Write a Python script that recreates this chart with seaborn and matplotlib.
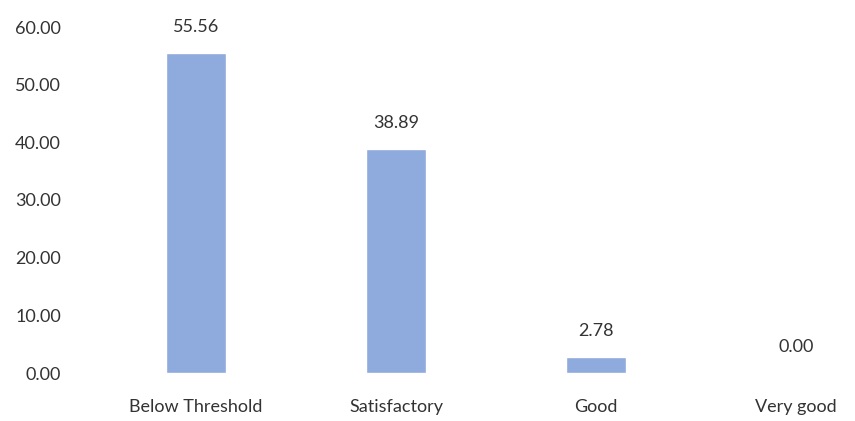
import matplotlib
matplotlib.use("Agg")
import matplotlib.pyplot as plt
import seaborn as sns
import pandas as pd

# datos
categorias = ["Below Threshold", "Satisfactory", "Good", "Very good"]
valores = [55.56, 38.89, 2.78, 0.00]
yticks = [0, 10, 20, 30, 40, 50, 60]

df = pd.DataFrame({"categoria": categorias, "valor": valores})

sns.set_style("white")
plt.rcParams["font.family"] = ["Lato", "DejaVu Sans"]

fig = plt.figure(figsize=(8.55, 4.21), dpi=100)
ax = fig.add_axes([75 / 855, 48 / 421, 780 / 855, 346 / 421])

sns.barplot(data=df, x="categoria", y="valor", color="#8faadc", width=0.3,
            saturation=1, ax=ax)

ax.bar_label(ax.containers[0], fmt="%.2f", padding=13, fontsize=13,
             color="#333333")

ax.set_ylim(0, 60)
ax.set_xlim(-0.605, 3.295)
ax.set_yticks(yticks)
ax.set_yticklabels([f"{v:.2f}" for v in yticks])
ax.tick_params(axis="y", length=0, pad=10, labelsize=13, labelcolor="#333333")
ax.tick_params(axis="x", length=0, pad=19, labelsize=13, labelcolor="#333333")
ax.set_xlabel("")
ax.set_ylabel("")
sns.despine(ax=ax, left=True, bottom=True)

fig.savefig("out.png", dpi=100)
